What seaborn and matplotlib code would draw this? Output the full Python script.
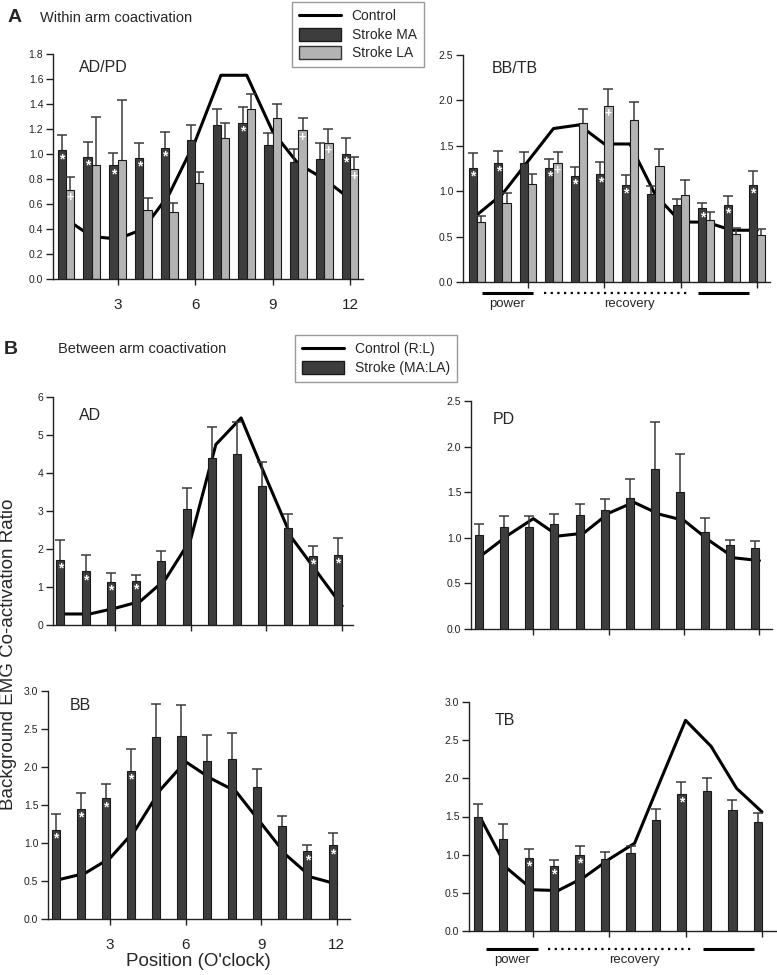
import numpy as np
import pandas as pd
import matplotlib
matplotlib.use('Agg')
import matplotlib.pyplot as plt
import seaborn as sns
from matplotlib.lines import Line2D
from matplotlib.patches import Patch
from matplotlib.ticker import FormatStrFormatter

sns.set_style('ticks')
plt.rcParams['font.family'] = ['Liberation Sans', 'DejaVu Sans']

# ---------------- data ----------------
positions = list(range(1, 13))
x_tick_values = [3, 6, 9, 12]
x_tick_labels = ['3', '6', '9', '12']

# A: within-arm coactivation, AD/PD
adpd_ma = [1.03, 0.98, 0.91, 0.97, 1.05, 1.11, 1.23, 1.25, 1.07, 0.94, 0.96, 1.00]
adpd_ma_upper = [1.15, 1.10, 1.01, 1.09, 1.18, 1.23, 1.36, 1.38, 1.17, 1.04, 1.09, 1.13]
adpd_la = [0.71, 0.91, 0.95, 0.55, 0.54, 0.77, 1.13, 1.36, 1.29, 1.19, 1.09, 0.88]
adpd_la_upper = [0.82, 1.30, 1.43, 0.65, 0.61, 0.86, 1.25, 1.48, 1.40, 1.29, 1.20, 0.98]
adpd_ctrl = [0.48, 0.34, 0.32, 0.40, 0.68, 1.10, 1.63, 1.63, 1.18, 0.92, 0.80, 0.64]
adpd_ma_sig = [1, 2, 3, 4, 5, 8, 12]
adpd_la_sig = [1, 10, 11, 12]

# A: within-arm coactivation, BB/TB
bbtb_ma = [1.26, 1.31, 1.31, 1.26, 1.17, 1.19, 1.07, 0.97, 0.85, 0.81, 0.85, 1.07]
bbtb_ma_upper = [1.42, 1.44, 1.43, 1.35, 1.27, 1.32, 1.18, 1.06, 0.91, 0.87, 0.95, 1.22]
bbtb_la = [0.66, 0.87, 1.08, 1.31, 1.75, 1.94, 1.78, 1.28, 0.96, 0.68, 0.53, 0.52]
bbtb_la_upper = [0.73, 0.98, 1.19, 1.43, 1.90, 2.13, 1.98, 1.46, 1.12, 0.77, 0.59, 0.58]
bbtb_ctrl = [0.74, 0.97, 1.33, 1.69, 1.73, 1.52, 1.52, 0.96, 0.66, 0.66, 0.57, 0.57]
bbtb_ma_sig = [1, 2, 4, 5, 6, 7, 10, 11, 12]
bbtb_la_sig = [4, 6]

# B: between-arm coactivation
ad_stroke = [1.71, 1.41, 1.14, 1.17, 1.69, 3.04, 4.40, 4.50, 3.66, 2.54, 1.82, 1.84]
ad_upper = [2.24, 1.83, 1.36, 1.32, 1.94, 3.61, 5.20, 5.33, 4.30, 2.92, 2.09, 2.28]
ad_ctrl = [0.29, 0.29, 0.44, 0.62, 1.20, 2.25, 4.75, 5.45, 3.85, 2.30, 1.40, 0.50]
ad_sig = [1, 2, 3, 4, 11, 12]

pd_stroke = [1.03, 1.12, 1.12, 1.15, 1.25, 1.30, 1.44, 1.75, 1.50, 1.06, 0.92, 0.89]
pd_upper = [1.15, 1.24, 1.24, 1.26, 1.37, 1.43, 1.65, 2.27, 1.92, 1.22, 0.98, 0.97]
pd_ctrl = [0.82, 1.03, 1.21, 1.02, 1.05, 1.27, 1.39, 1.26, 1.19, 0.97, 0.78, 0.75]
pd_sig = []

bb_stroke = [1.17, 1.45, 1.59, 1.95, 2.39, 2.41, 2.08, 2.10, 1.74, 1.23, 0.89, 0.97]
bb_upper = [1.38, 1.66, 1.78, 2.24, 2.83, 2.81, 2.42, 2.45, 1.97, 1.35, 0.97, 1.13]
bb_ctrl = [0.52, 0.60, 0.80, 1.17, 1.70, 2.07, 1.85, 1.68, 1.26, 0.84, 0.55, 0.46]
bb_sig = [1, 2, 3, 4, 11, 12]

tb_stroke = [1.49, 1.21, 0.96, 0.85, 1.00, 0.94, 1.02, 1.46, 1.80, 1.83, 1.58, 1.43]
tb_upper = [1.67, 1.40, 1.07, 0.93, 1.12, 1.04, 1.11, 1.60, 1.95, 2.01, 1.72, 1.55]
tb_ctrl = [1.45, 0.82, 0.54, 0.53, 0.70, 0.94, 1.15, 1.96, 2.76, 2.42, 1.87, 1.56]
tb_sig = [3, 4, 5, 9]

# stroke phases (in clock positions)
phase_names = ['power', 'recovery']
phase_power = (1.18, 3.2)
phase_recovery = (3.62, 9.23)
phase_power_return = (9.67, 11.68)
phase_label_x = [2.2, 7.0]

# ---------------- style ----------------
DARK = '#3d3d3d'
LIGHT = '#b3b3b3'
EDGE = '#1a1a1a'
ERR = '#3a3a3a'
W, H = 777, 975

fig = plt.figure(figsize=(7.77, 9.75), dpi=100)


def px_axes(left, top, right, bottom):
    return fig.add_axes([left / W, 1 - bottom / H, (right - left) / W, (bottom - top) / H])


def upper_errors(ax, x, vals, uppers):
    vals = np.asarray(vals)
    up = np.asarray(uppers) - vals
    _, caps, _ = ax.errorbar(x, vals, yerr=[np.zeros_like(up), up], fmt='none',
                             ecolor=ERR, elinewidth=1.1, capsize=3.8, capthick=1.1, zorder=2.4)
    if len(caps) > 1:
        caps[0].set_visible(False)


def mark_sig(ax, x, vals, sig, sym, ytop, size):
    for p in sig:
        i = positions.index(p)
        ax.text(x[i], vals[i] - 0.008 * ytop, sym, color='white', ha='center', va='top',
                fontsize=size, fontweight='bold', zorder=3)


def style_axis(ax, xlim, ytop, ystep, fmt, show_xlabels, title, title_pos):
    ax.set_xlim(*xlim)
    ax.set_ylim(0, ytop)
    ax.set_yticks(np.arange(0, ytop + 1e-9, ystep))
    ax.yaxis.set_major_formatter(FormatStrFormatter(fmt))
    ax.set_xticks(x_tick_values)
    if show_xlabels:
        ax.set_xticklabels(x_tick_labels)
    else:
        ax.set_xticklabels([])
    ax.set_xlabel('')
    ax.set_ylabel('')
    sns.despine(ax=ax)
    for s in ['left', 'bottom']:
        ax.spines[s].set_linewidth(1.0)
        ax.spines[s].set_color('#222222')
    ax.tick_params(axis='y', length=5, width=1, labelsize=7.5, pad=2, colors='#222222')
    ax.tick_params(axis='x', length=4, width=1, labelsize=11, pad=10, colors='#222222')
    ax.text(title_pos[0], title_pos[1], title, transform=ax.transAxes, fontsize=11.5,
            ha='left', va='center')


def grouped_panel(ax, ma, ma_up, la, la_up, ctrl, ma_sig, la_sig, ytop):
    df = pd.DataFrame({'Position': positions * 2,
                       'Ratio': ma + la,
                       'Group': ['Stroke MA'] * 12 + ['Stroke LA'] * 12})
    sns.barplot(data=df, x='Position', y='Ratio', hue='Group',
                hue_order=['Stroke MA', 'Stroke LA'], palette=[DARK, LIGHT],
                native_scale=True, width=0.64, gap=0, errorbar=None,
                edgecolor=EDGE, linewidth=0.8, legend=False, ax=ax, zorder=2)
    sns.lineplot(x=positions, y=ctrl, color='black', lw=2.2, ax=ax, zorder=1.5, legend=False)
    off = 0.64 / 4
    xm = np.array(positions) - off
    xl = np.array(positions) + off
    upper_errors(ax, xm, ma, ma_up)
    upper_errors(ax, xl, la, la_up)
    mark_sig(ax, xm, ma, ma_sig, '*', ytop, 10)
    mark_sig(ax, xl, la, la_sig, '+', ytop, 9)


def single_panel(ax, st, up, ctrl, sig, ytop):
    df = pd.DataFrame({'Position': positions, 'Ratio': st})
    sns.barplot(data=df, x='Position', y='Ratio', color=DARK, native_scale=True,
                width=0.32, errorbar=None, edgecolor=EDGE, linewidth=0.8, ax=ax, zorder=2)
    off = 0.32 / 2
    for p in ax.patches:
        p.set_x(p.get_x() - off)
    sns.lineplot(x=positions, y=ctrl, color='black', lw=2.2, ax=ax, zorder=1.5, legend=False)
    xs = np.array(positions) - off
    upper_errors(ax, xs, st, up)
    mark_sig(ax, xs, st, sig, '*', ytop, 10)


def phases(ax, y_line, y_text):
    tr = ax.get_xaxis_transform()
    ax.plot(phase_power, [y_line] * 2, color='black', lw=2.2, transform=tr, clip_on=False,
            solid_capstyle='butt')
    ax.plot(phase_recovery, [y_line] * 2, color='black', lw=1.6, transform=tr, clip_on=False,
            linestyle=(0, (1, 2)))
    ax.plot(phase_power_return, [y_line] * 2, color='black', lw=2.2, transform=tr, clip_on=False,
            solid_capstyle='butt')
    for name, xt in zip(phase_names, phase_label_x):
        ax.text(xt, y_text, name, transform=tr, ha='center', va='center', fontsize=9.5)


# ---------------- panels ----------------
ax1 = px_axes(53, 54, 363, 279)
grouped_panel(ax1, adpd_ma, adpd_ma_upper, adpd_la, adpd_la_upper, adpd_ctrl,
              adpd_ma_sig, adpd_la_sig, 1.8)
style_axis(ax1, (0.5, 12.5), 1.8, 0.2, '%.1f', True, 'AD/PD', (0.085, 0.94))

ax2 = px_axes(463, 55, 770, 282)
grouped_panel(ax2, bbtb_ma, bbtb_ma_upper, bbtb_la, bbtb_la_upper, bbtb_ctrl,
              bbtb_ma_sig, bbtb_la_sig, 2.5)
style_axis(ax2, (0.45, 12.5), 2.5, 0.5, '%.1f', False, 'BB/TB', (0.095, 0.94))
phases(ax2, -0.048, -0.097)

ax3 = px_axes(53, 397, 353, 625)
single_panel(ax3, ad_stroke, ad_upper, ad_ctrl, ad_sig, 6)
style_axis(ax3, (0.55, 12.43), 6, 1, '%d', False, 'AD', (0.087, 0.92))

ax4 = px_axes(471, 401, 772, 629)
single_panel(ax4, pd_stroke, pd_upper, pd_ctrl, pd_sig, 2.5)
style_axis(ax4, (0.52, 12.5), 2.5, 0.5, '%.1f', False, 'PD', (0.073, 0.92))

ax5 = px_axes(48, 691, 350, 919)
single_panel(ax5, bb_stroke, bb_upper, bb_ctrl, bb_sig, 3.0)
style_axis(ax5, (0.54, 12.53), 3.0, 0.5, '%.1f', True, 'BB', (0.073, 0.935))

ax6 = px_axes(469, 702, 776, 931)
single_panel(ax6, tb_stroke, tb_upper, tb_ctrl, tb_sig, 3.0)
style_axis(ax6, (0.5, 12.55), 3.0, 0.5, '%.1f', False, 'TB', (0.085, 0.92))
phases(ax6, -0.080, -0.128)

# ---------------- figure text ----------------
fig.text(8 / W, 1 - 17 / H, 'A', fontsize=14, fontweight='bold', ha='left', va='center')
fig.text(40 / W, 1 - 18 / H, 'Within arm coactivation', fontsize=10.5, ha='left', va='center')
fig.text(4 / W, 1 - 349 / H, 'B', fontsize=14, fontweight='bold', ha='left', va='center')
fig.text(58 / W, 1 - 349 / H, 'Between arm coactivation', fontsize=10.5, ha='left', va='center')
fig.text(9 / W, 1 - 654 / H, 'Background EMG Co-activation Ratio', rotation=90,
         fontsize=13.5, ha='center', va='center')
fig.text(198 / W, 1 - 962 / H, "Position (O'clock)", fontsize=13.5, ha='center', va='center')

legA = fig.legend(handles=[Line2D([], [], color='black', lw=2.2, label='Control'),
                           Patch(facecolor=DARK, edgecolor=EDGE, label='Stroke MA'),
                           Patch(facecolor=LIGHT, edgecolor='#333333', label='Stroke LA')],
                  loc='upper left', bbox_to_anchor=(292 / W, 1 - 2 / H), frameon=True,
                  fancybox=False, edgecolor='#808080', fontsize=10, handlelength=3.0,
                  handleheight=1.1, borderpad=0.5, labelspacing=0.3, handletextpad=0.8,
                  borderaxespad=0)
legA.get_frame().set_linewidth(1.0)

legB = fig.legend(handles=[Line2D([], [], color='black', lw=2.2, label='Control (R:L)'),
                           Patch(facecolor=DARK, edgecolor=EDGE, label='Stroke (MA:LA)')],
                  loc='upper left', bbox_to_anchor=(295 / W, 1 - 335 / H), frameon=True,
                  fancybox=False, edgecolor='#808080', fontsize=10, handlelength=3.0,
                  handleheight=1.1, borderpad=0.5, labelspacing=0.3, handletextpad=0.8,
                  borderaxespad=0)
legB.get_frame().set_linewidth(1.0)

fig.savefig('out.png', dpi=100)
